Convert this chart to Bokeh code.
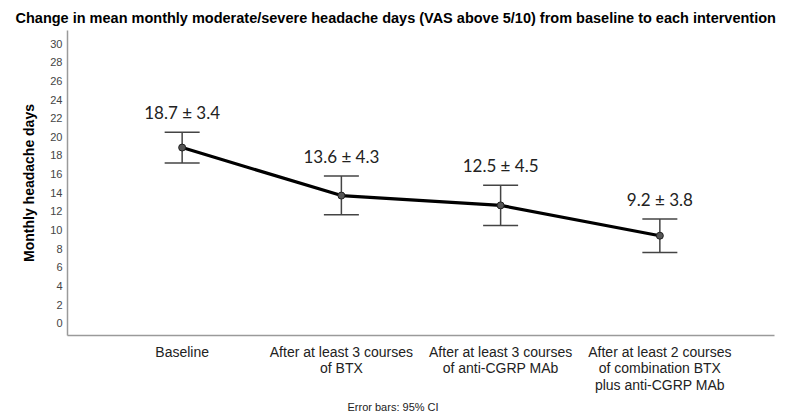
from bokeh.plotting import figure
from bokeh.models import ColumnDataSource, Range1d, FixedTicker, Whisker, TeeHead, Title
from bokeh.core.properties import value
from bokeh.embed import file_html
from bokeh.resources import INLINE

categories = ["Baseline",
              "After at least 3 courses\nof BTX",
              "After at least 3 courses\nof anti-CGRP MAb",
              "After at least 2 courses\nof combination BTX\nplus anti-CGRP MAb"]
means = [18.85, 13.7, 12.65, 9.4]
ci_low = [17.2, 11.65, 10.5, 7.6]
ci_high = [20.5, 15.8, 14.8, 11.2]
labels = ["18.7 \u00b1 3.4", "13.6 \u00b1 4.3", "12.5 \u00b1 4.5", "9.2 \u00b1 3.8"]
y_ticks = list(range(0, 31, 2))

xs = list(range(len(categories)))
src = ColumnDataSource(dict(x=xs, m=means, lo=ci_low, hi=ci_high, lab=labels))

p = figure(width=789, height=417, output_backend="svg", toolbar_location=None,
           x_range=Range1d(-0.72, 3.72), y_range=Range1d(-1.3, 31.4),
           min_border_left=67, min_border_right=15, min_border_top=30, min_border_bottom=82)

t = Title(text="Change in mean monthly moderate/severe headache days (VAS above 5/10) from baseline to each intervention",
          text_font="Liberation Sans", text_font_size="14.5px", text_font_style="bold",
          text_color="#000000", align="left", offset=-52)
p.add_layout(t, "above")

cap = Title(text="Error bars: 95% CI", text_font="Liberation Sans", text_font_size="11px",
            text_font_style="normal", text_color="#222222", align="left", offset=280, standoff=4)
p.add_layout(cap, "below")

p.outline_line_color = None
p.xgrid.grid_line_color = None
p.ygrid.grid_line_color = None

for ax in (p.xaxis[0], p.yaxis[0]):
    ax.axis_line_color = "#9a9a9a"
    ax.axis_line_width = 1.5
    ax.major_tick_line_color = None
    ax.minor_tick_line_color = None
    ax.major_tick_out = 0
    ax.major_tick_in = 0
    ax.minor_tick_out = 0
    ax.major_label_text_font = "Liberation Sans"

p.yaxis.ticker = FixedTicker(ticks=y_ticks)
p.yaxis.major_label_text_font_size = "11px"
p.yaxis.major_label_text_color = "#444444"
p.yaxis.major_label_standoff = 5
p.yaxis.axis_label = "Monthly headache days"
p.yaxis.axis_label_text_font = "Liberation Sans"
p.yaxis.axis_label_text_font_size = "14px"
p.yaxis.axis_label_text_font_style = "bold"
p.yaxis.axis_label_text_color = "#000000"
p.yaxis.axis_label_standoff = 10

p.xaxis.ticker = FixedTicker(ticks=xs)
p.xaxis.major_label_overrides = {i: c for i, c in zip(xs, categories)}
p.xaxis.major_label_text_font_size = "14px"
p.xaxis.major_label_text_line_height = 1.05
p.xaxis.major_label_text_color = "#222222"
p.xaxis.major_label_standoff = 8

w = Whisker(source=src, base="x", lower="lo", upper="hi",
            line_color="#444444", line_width=1.5,
            upper_head=TeeHead(size=35, line_color="#444444", line_width=1.5),
            lower_head=TeeHead(size=35, line_color="#444444", line_width=1.5))
p.add_layout(w)

p.line("x", "m", source=src, line_color="#000000", line_width=3.2)
p.scatter("x", "m", source=src, size=7, fill_color="#555555", line_color="#222222", line_width=1)

p.text("x", "hi", text="lab", source=src, text_align="center", text_baseline="bottom",
       y_offset=-9, text_font=value("Lato"), text_font_size="17px", text_color="#222222")

open("out.html", "w").write(file_html(p, INLINE))
